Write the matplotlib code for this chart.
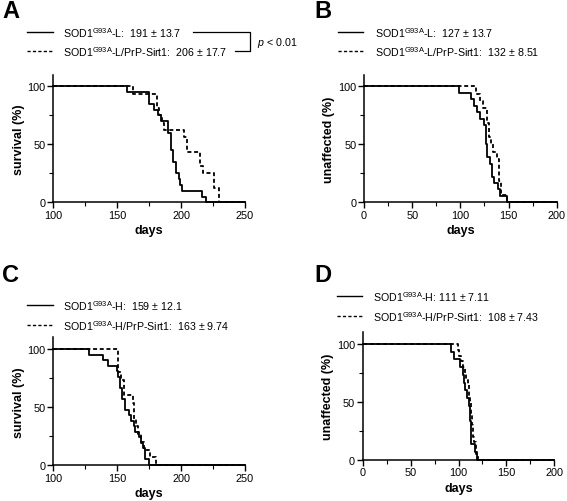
import matplotlib
matplotlib.use("Agg")
import matplotlib.pyplot as plt
from matplotlib.lines import Line2D
from matplotlib.ticker import MultipleLocator

plt.rcParams['font.family'] = ['Liberation Sans', 'DejaVu Sans']
plt.rcParams['mathtext.fontset'] = 'custom'
plt.rcParams['mathtext.rm'] = 'Liberation Sans'
plt.rcParams['mathtext.it'] = 'Liberation Sans:italic'
plt.rcParams['mathtext.bf'] = 'Liberation Sans:bold'

## Data (step curves, x = days, y = percent) ##
# A: survival, low copy
a_solid_x = [100, 158, 175, 179, 182, 184, 190, 192, 194, 196, 198, 199, 201, 216, 219.5, 250]
a_solid_y = [100, 95, 85, 80, 75, 70, 60, 45, 35, 25, 20, 15, 10, 5, 0, 0]
a_dash_x = [100, 162.5, 181, 183, 185, 187, 191, 202, 205, 215, 217, 226, 230, 250]
a_dash_y = [100, 93.75, 81.25, 75, 68.75, 62.5, 62.5, 56.25, 43.75, 31.25, 25, 12.5, 0, 0]

# B: unaffected, low copy
b_solid_x = [0, 99, 111, 114, 117, 120, 125, 127, 128, 131, 133, 135, 139, 141, 148, 200]
b_solid_y = [100, 94.4, 88.9, 83.3, 77.8, 72.2, 66.7, 50, 38.9, 33.3, 22.2, 16.7, 11.1, 5.6, 0, 0]
b_dash_x = [0, 116, 120, 124, 128, 130, 132, 134, 138, 140, 142, 148, 200]
b_dash_y = [100, 93.75, 87.5, 81.25, 68.75, 56.25, 50, 43.75, 37.5, 18.75, 6.25, 0, 0]

# C: survival, high copy
c_solid_x = [100, 128, 139, 143, 149.5, 151, 152, 154, 156, 159, 161, 163, 164, 167, 169, 170.5, 172, 174.5, 250]
c_solid_y = [100, 95.2, 90.5, 85.7, 81, 76.2, 66.7, 57.1, 47.6, 42.9, 38.1, 33.3, 28.6, 23.8, 19, 14.3, 4.8, 0, 0]
c_dash_x = [100, 151, 153, 155, 162, 163, 165, 166, 169, 171, 176, 180, 250]
c_dash_y = [100, 80, 73.3, 60, 53.3, 40, 33.3, 26.7, 20, 13.3, 6.7, 0, 0]

# D: unaffected, high copy
d_solid_x = [0, 92, 95, 102, 105, 106, 107, 109, 111, 112, 113, 117, 119, 200]
d_solid_y = [100, 93.3, 86.7, 80, 73.3, 66.7, 60, 53.3, 46.7, 33.3, 13.3, 6.7, 0, 0]
d_dash_x = [0, 99, 101, 103, 105, 107, 108, 110, 111, 112, 113, 114, 115, 116, 118, 120, 200]
d_dash_y = [100, 95, 90, 85, 80, 75, 70, 65, 55, 50, 40, 30, 20, 15, 5, 0, 0]

W, H = 567, 502
fig = plt.figure(figsize=(W / 100, H / 100), dpi=100)

def fx(px):
    return px / W

def fy(py):
    return 1 - py / H

CURVE_DASH = (2.2, 1.5)
LEG_DASH = (2.3, 1.6)

def make_panel(left, right, zero_y, hundred_y, xlim, xstep, ylabel,
               sx, sy, dx, dy):
    top = zero_y - (zero_y - hundred_y) * 1.1
    ax = fig.add_axes([fx(left), fy(zero_y), fx(right - left), (zero_y - top) / H])
    ax.step(sx, sy, where='post', color='black', lw=1.3, clip_on=False, zorder=3)
    ax.step(dx, dy, where='post', color='black', lw=1.3, dashes=CURVE_DASH,
            clip_on=False, zorder=3)
    ax.set_xlim(*xlim)
    ax.set_ylim(0, 110)
    ax.set_yticks([0, 50, 100])
    ax.xaxis.set_major_locator(MultipleLocator(xstep))
    ax.xaxis.set_minor_locator(MultipleLocator(xstep / 2))
    ax.yaxis.set_minor_locator(MultipleLocator(25))
    for s in ['top', 'right']:
        ax.spines[s].set_visible(False)
    for s in ['left', 'bottom']:
        ax.spines[s].set_linewidth(1.1)
    ax.tick_params(which='major', direction='out', length=4, width=1,
                   labelsize=7.8, pad=1.5)
    ax.tick_params(which='minor', direction='out', length=3, width=0.8)
    ax.set_xlabel('days', fontsize=9, fontweight='bold', labelpad=3)
    ax.set_ylabel(ylabel, fontsize=9, fontweight='bold', labelpad=2)
    return ax

make_panel(53.3, 245, 203.3, 87.3, (100, 250), 50, 'survival (%)',
           a_solid_x, a_solid_y, a_dash_x, a_dash_y)
make_panel(364, 556.7, 203.3, 87.3, (0, 200), 50, 'unaffected (%)',
           b_solid_x, b_solid_y, b_dash_x, b_dash_y)
make_panel(53.3, 245, 466, 350, (100, 250), 50, 'survival (%)',
           c_solid_x, c_solid_y, c_dash_x, c_dash_y)
make_panel(362.7, 554.3, 460.7, 345, (0, 200), 50, 'unaffected (%)',
           d_solid_x, d_solid_y, d_dash_x, d_dash_y)

## Legends and panel letters ##
SUP = r'SOD1$^{\mathrm{G93A}}$'

def legend_row(x0, x1, xt, y, dashed, label):
    kw = dict(color='black', lw=1.0, transform=fig.transFigure)
    if dashed:
        kw['dashes'] = LEG_DASH
    fig.add_artist(Line2D([fx(x0), fx(x1)], [fy(y), fy(y)], **kw))
    fig.text(fx(xt), fy(y), label, fontsize=7.7, va='center', ha='left')

def letter(x, y, s):
    fig.text(fx(x), fy(y), s, fontsize=17, fontweight='bold', va='center', ha='left')

letter(2, 12, 'A')
legend_row(27, 53, 63, 33.3, False, SUP + '-L:  191 ± 13.7')
legend_row(27, 53, 63, 51.7, True, SUP + '-L/PrP-Sirt1:  206 ± 17.7')
# significance bracket
fig.add_artist(Line2D([fx(193), fx(250), fx(250), fx(235)],
                      [fy(33.3), fy(33.3), fy(51.7), fy(51.7)],
                      color='black', lw=0.9, transform=fig.transFigure))
fig.text(fx(257), fy(43), r'$\mathit{p}$ < 0.01', fontsize=7.7, va='center', ha='left')

letter(314, 12, 'B')
legend_row(338, 363, 375, 33.3, False, SUP + '-L:  127 ± 13.7')
legend_row(338, 363, 375, 51.7, True, SUP + '-L/PrP-Sirt1:  132 ± 8.51')

letter(2, 276, 'C')
legend_row(27, 53, 63, 305.7, False, SUP + '-H:  159 ± 12.1')
legend_row(27, 53, 63, 325.7, True, SUP + '-H/PrP-Sirt1:  163 ± 9.74')

letter(314, 276, 'D')
legend_row(337, 362, 373, 296.7, False, SUP + '-H: 111 ± 7.11')
legend_row(337, 362, 373, 316.7, True, SUP + '-H/PrP-Sirt1:  108 ± 7.43')

fig.savefig('out.png', dpi=100)
